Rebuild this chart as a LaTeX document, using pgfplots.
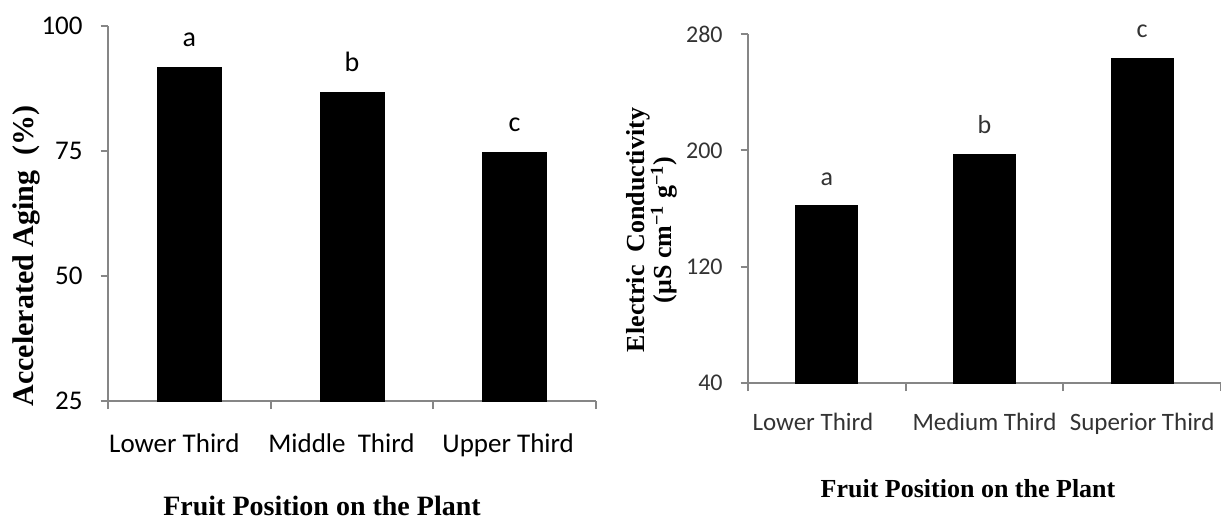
\documentclass[border=0pt]{standalone}
\usepackage{fontspec}
\usepackage{pgfplots}
\pgfplotsset{compat=1.18}
\setmainfont{Carlito}
\newfontfamily\tnr{Liberation Serif}
\definecolor{axgray}{HTML}{868686}
\definecolor{txtgray}{HTML}{333333}
\begin{document}
\begin{tikzpicture}
\useasboundingbox (0,0) rectangle (610.5pt,-260.5pt);
% ---------------- left chart ----------------
\begin{axis}[
  at={(54pt,-200.5pt)}, anchor=south west,
  scale only axis, width=244pt, height=187.5pt,
  xmin=-0.5, xmax=2.5, ymin=25, ymax=100,
  enlargelimits=false, clip=false,
  ytick={25,50,75,100},
  xtick={0,1,2},
  xticklabels={Lower Third\kern15pt, Middle\ \ Third\kern10.5pt, Upper Third\kern6.5pt},
  minor xtick={-0.5,0.5,1.5,2.5},
  axis lines*=left,
  axis line style={axgray, line width=1pt},
  tick style={axgray, line width=1pt},
  tick align=outside,
  major tick length=3.75pt, minor tick length=4pt,
  major x tick style={draw=none},
  /pgf/number format/assume math mode=true,
  yticklabel style={anchor=east, inner sep=0pt, xshift=-8.75pt, font=\fontsize{13.5}{16}\selectfont, text=black},
  xticklabel style={anchor=base, inner sep=0pt, yshift=-21.75pt, font=\fontsize{13.5}{16}\selectfont, text=black},
]
\addplot[ybar, bar width=32pt, fill=black, draw=black,
  point meta=explicit symbolic, nodes near coords,
  every node near coord/.append style={anchor=south, inner sep=0pt, yshift=10pt, font=\fontsize{14}{16}\selectfont, text=black}]
  coordinates {(0,91.7)[a] (1,86.8)[b] (2,74.7)[c]};
\end{axis}
\node[rotate=90, font=\tnr\bfseries\fontsize{15}{17}\selectfont] at (13.25pt,-128pt) {Accelerated Aging\ \ (\%)};
\node[anchor=base, font=\tnr\bfseries\fontsize{14}{17}\selectfont] at (161pt,-257.5pt) {Fruit Position on the Plant};
% ---------------- right chart ----------------
\begin{axis}[
  at={(374pt,-191.5pt)}, anchor=south west,
  scale only axis, width=236.5pt, height=174.5pt,
  xmin=-0.5, xmax=2.5, ymin=40, ymax=280,
  enlargelimits=false, clip=false,
  ytick={40,120,200,280},
  xtick={0,1,2},
  xticklabels={Lower Third\kern14pt, Medium Third, Superior Third},
  minor xtick={-0.5,0.5,1.5,2.5},
  axis lines*=left,
  axis line style={axgray, line width=1pt},
  tick style={axgray, line width=1pt},
  tick align=outside,
  major tick length=3.75pt, minor tick length=4pt,
  major x tick style={draw=none},
  /pgf/number format/assume math mode=true,
  yticklabel style={anchor=east, inner sep=0pt, xshift=-8.75pt, font=\fontsize{12}{14}\selectfont, text=txtgray},
  xticklabel style={anchor=base, inner sep=0pt, yshift=-19.75pt, font=\fontsize{12.5}{15}\selectfont, text=txtgray},
]
\addplot[ybar, bar width=31pt, fill=black, draw=black,
  point meta=explicit symbolic, nodes near coords,
  every node near coord/.append style={anchor=south, inner sep=0pt, yshift=10pt, font=\fontsize{13}{15}\selectfont, text=txtgray}]
  coordinates {(0,161.9)[a] (1,197.3)[b] (2,263.3)[c]};
\end{axis}
\node[rotate=90, align=center, font=\tnr\bfseries\fontsize{13}{13.5}\selectfont] at (326pt,-115pt) {Electric\ \ Conductivity\\(μS cm\textsuperscript{−1} g\textsuperscript{−1})};
\node[anchor=base, font=\tnr\bfseries\fontsize{13}{16}\selectfont] at (484pt,-248.5pt) {Fruit Position on the Plant};
\end{tikzpicture}
\end{document}
